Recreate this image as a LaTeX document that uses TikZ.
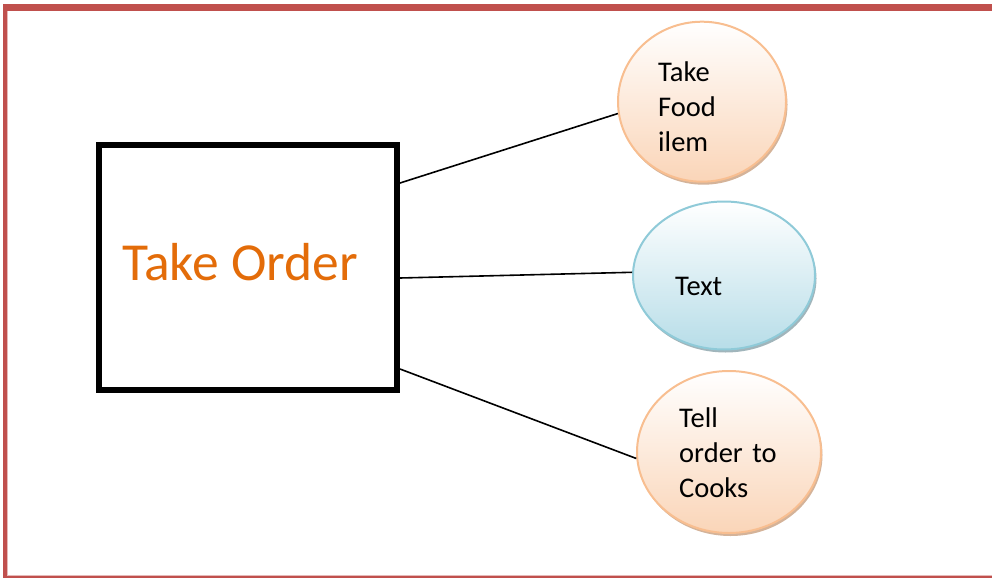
\documentclass[tikz,border=0pt]{standalone}
\usepackage{fontspec}
\newfontfamily\calibri{Carlito}
\usetikzlibrary{shapes.geometric,shadows}
\definecolor{framered}{HTML}{C0504D}
\definecolor{framepink}{HTML}{E6B9B8}
\definecolor{ordertxt}{HTML}{E36C09}
\definecolor{peachline}{HTML}{F8BE90}
\definecolor{peachfill}{HTML}{FAD5B8}
\definecolor{peachshadow}{HTML}{C9A080}
\definecolor{blueline}{HTML}{8FCAD8}
\definecolor{bluefill}{HTML}{B7DDE8}
\definecolor{blueshadow}{HTML}{8AA3AA}
\tikzset{
  bubble/.style={ellipse, inner sep=0pt, line width=2pt},
  peach/.style={bubble, draw=peachline, top color=white, bottom color=peachfill,
    drop shadow={shadow xshift=1.5pt, shadow yshift=-3pt, fill=peachshadow, opacity=0.8}},
  aqua/.style={bubble, draw=blueline, top color=white, bottom color=bluefill,
    drop shadow={shadow xshift=1.5pt, shadow yshift=-3pt, fill=blueshadow, opacity=0.8}},
  bubbletext/.style={anchor=base west, inner sep=0pt, text width=120pt, align=left,
    font=\calibri\fontsize{28.5}{35}\selectfont},
  link/.style={line width=1.6pt, black},
}
\begin{document}
\begin{tikzpicture}[x=1pt, y=-1pt]
  \useasboundingbox (0,0) rectangle (992,578);
  % page frame
  \fill[framered] (3,4) rectangle (992,11);
  \fill[framered] (3,4) rectangle (7,578);
  \fill[framered] (3,576) rectangle (992,578);
  \draw[framepink, line width=0.8pt] (7.5,11.5) -- (7.5,575.5) -- (992,575.5);

  % main box
  \node[draw, line width=6pt, minimum width=298pt, minimum height=245pt, inner sep=0pt]
    (order) at (248,267.5) {};
  \node[anchor=base west, inner sep=0pt, text=ordertxt, font=\calibri\fontsize{53.5}{64}\selectfont]
    (ordertext) at (122,280.7) {Take Order};

  % bubbles
  \node[peach, minimum width=168pt, minimum height=160pt] (food) at (702,101.7) {};
  \node[aqua, minimum width=182pt, minimum height=148pt] (text) at (724,275.5) {};
  \node[peach, minimum width=184pt, minimum height=162pt] (cooks) at (729,452) {};

  \node[bubbletext] (foodtext) at (658,81.7) {Take\\Food\\ilem};
  \node[bubbletext] (texttext) at (675,295) {Text};
  \node[bubbletext] (cookstext) at (679,427.3) {Tell\\order to\\Cooks};

  % connectors
  \draw[link] ([yshift=84.5pt]order.east) -- (food.188);
  \draw[link] ([yshift=-10.5pt]order.east) -- (text.178);
  \draw[link] ([yshift=-101.5pt]order.east) -- (cooks.184);
\end{tikzpicture}
\end{document}
